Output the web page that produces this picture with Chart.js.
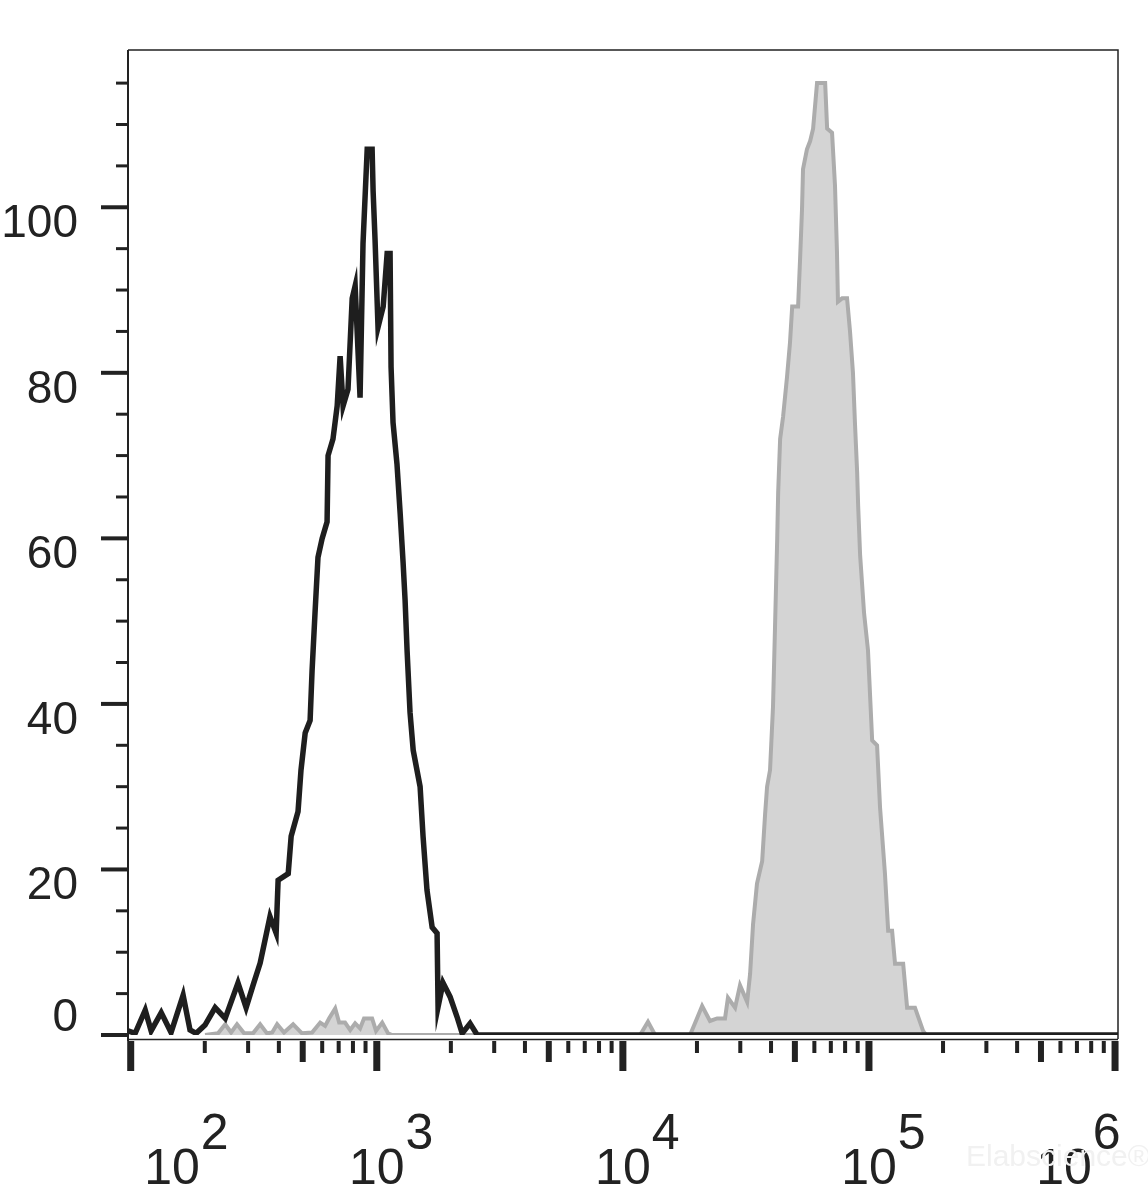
<!DOCTYPE html>
<html>
<head>
<meta charset="utf-8">
<script src="https://cdn.jsdelivr.net/npm/chart.js@4.4.1/dist/chart.umd.min.js"></script>
<style>
  body { margin: 0; background: #fff; }
  #wrap { width: 1148px; height: 1195px; position: relative; }
</style>
</head>
<body>
<div id="wrap"><canvas id="flow_chart"></canvas></div>
<script>
// x values are log10 of fluorescence intensity, y values are cell counts
const blackLog = [1.989, 2.018, 2.059, 2.083, 2.124, 2.164, 2.213, 2.241, 2.266, 2.302,
    2.343, 2.384, 2.436, 2.469, 2.497, 2.526, 2.546, 2.566, 2.591, 2.599,
    2.640, 2.652, 2.680, 2.692, 2.709, 2.729, 2.737, 2.749, 2.761, 2.778,
    2.798, 2.802, 2.822, 2.839, 2.851, 2.863, 2.883, 2.900, 2.912, 2.932,
    2.944, 2.961, 2.981, 2.985, 2.993, 3.005, 3.026, 3.042, 3.054, 3.058,
    3.066, 3.082, 3.095, 3.107, 3.115, 3.123, 3.135, 3.148, 3.176, 3.188,
    3.204, 3.225, 3.245, 3.249, 3.269, 3.298, 3.326, 3.347, 3.379, 3.408, 6.012];
const blackCount = [0.5, 0.2, 3, 0.5, 2.7, 0.3, 4.8, 0.6, 0.2, 1.2,
    3.3, 2, 6.3, 3.3, 6, 8.7, 11.5, 14.3, 12.3, 18.7,
    19.5, 24, 27, 32, 36.5, 38, 44, 51, 57.7, 60,
    62, 70, 72, 76, 82, 76, 78, 89, 90.5, 77,
    95.6, 107, 107, 102, 96, 85.5, 88, 94.4, 94.4, 80.7,
    74, 69, 63, 57, 52.5, 46.5, 39, 34.4, 30, 24,
    17.5, 13, 12.3, 3.4, 6.3, 4.6, 2.2, 0.2, 1.4, 0, 0];

const greyLog = [2.302, 2.355, 2.384, 2.408, 2.432, 2.461, 2.497, 2.526, 2.554, 2.575,
    2.595, 2.623, 2.660, 2.696, 2.737, 2.770, 2.790, 2.806, 2.831, 2.847,
    2.871, 2.892, 2.912, 2.932, 2.948, 2.981, 2.997, 3.022, 3.046, 3.062,
    4.070, 4.102, 4.131, 4.273, 4.301, 4.322, 4.354, 4.383, 4.415, 4.427,
    4.456, 4.476, 4.505, 4.517, 4.529, 4.545, 4.566, 4.578, 4.586, 4.598,
    4.610, 4.618, 4.627, 4.631, 4.639, 4.651, 4.667, 4.679, 4.688, 4.712,
    4.720, 4.728, 4.732, 4.748, 4.761, 4.773, 4.789, 4.822, 4.830, 4.850,
    4.862, 4.870, 4.874, 4.891, 4.911, 4.923, 4.935, 4.943, 4.952, 4.956,
    4.964, 4.980, 4.996, 5.013, 5.033, 5.045, 5.065, 5.078, 5.094, 5.106,
    5.139, 5.155, 5.187, 5.220, 5.232];
const greyCount = [0, 0.2, 1.3, 0.3, 1.3, 0.2, 0.2, 1.3, 0.2, 0.3,
    1.3, 0.3, 1.3, 0.2, 0.3, 1.5, 1.1, 2.0, 3.2, 1.5,
    1.5, 0.6, 1.4, 0.8, 2.0, 2.0, 0.5, 1.5, 0.2, 0,
    0, 1.6, 0, 0, 2, 3.5, 1.7, 2, 2, 4.5,
    3.3, 6, 4, 7.4, 13.4, 18.3, 21, 26.7, 30, 32,
    39.6, 49, 59.8, 65.5, 72, 74.7, 79.5, 83.6, 88, 88,
    93.7, 99.8, 104.6, 107, 108, 109.5, 115, 115, 109.5, 109,
    102.6, 94.6, 88.6, 89, 89, 85, 80, 74, 68, 64,
    58, 51, 46.5, 35.6, 35, 27.5, 19.5, 12.6, 12.6, 8.6,
    8.6, 3.3, 3.3, 0.5, 0];

// axis ranges and ticks
const xRangeLog = [1.989, 6.012];
const yRange = [0, 119];
const xDecades = [100, 1000, 10000, 100000, 1000000];
const xDecadeExponents = ['2', '3', '4', '5', '6'];
const xMidFactors = [5];
const xMinorFactors = [2, 3, 4, 6, 7, 8, 9];
const yMajorTicks = [0, 20, 40, 60, 80, 100];
const yMinorTicks = [5, 10, 15, 25, 30, 35, 45, 50, 55, 65, 70, 75, 85, 90, 95, 105, 110, 115];

const to_points = (logs, counts) => logs.map((e, i) => ({ x: Math.pow(10, e), y: counts[i] }));

const axesPlugin = {
    id: 'flowAxes',
    beforeDatasetsDraw(chart) {
        const { ctx, chartArea: a, scales } = chart;
        const xs = scales.x, ys = scales.y;
        ctx.save();
        ctx.strokeStyle = '#222';
        ctx.fillStyle = '#222';

        // frame
        ctx.lineWidth = 1.5;
        ctx.beginPath();
        ctx.moveTo(a.left, a.top);
        ctx.lineTo(a.right, a.top);
        ctx.lineTo(a.right, a.bottom + 4);
        ctx.stroke();
        ctx.lineWidth = 2;
        ctx.beginPath();
        ctx.moveTo(a.left, a.top);
        ctx.lineTo(a.left, a.bottom + 6);
        ctx.stroke();
        // thin x axis line under the zero line
        ctx.lineWidth = 1.5;
        ctx.beginPath();
        ctx.moveTo(a.left, a.bottom + 4.5);
        ctx.lineTo(a.right, a.bottom + 4.5);
        ctx.stroke();

        // y ticks
        ctx.lineWidth = 4;
        yMajorTicks.forEach(v => {
            const p = ys.getPixelForValue(v);
            ctx.beginPath(); ctx.moveTo(a.left - 27, p); ctx.lineTo(a.left, p); ctx.stroke();
        });
        ctx.lineWidth = 3;
        yMinorTicks.forEach(v => {
            const p = ys.getPixelForValue(v);
            ctx.beginPath(); ctx.moveTo(a.left - 12, p); ctx.lineTo(a.left, p); ctx.stroke();
        });

        // x ticks
        const top = a.bottom + 6;
        const xtick = (v, w, len) => {
            const p = xs.getPixelForValue(v);
            if (p < a.left - 4 || p > a.right + 4) return;
            ctx.fillRect(p - w / 2, top, w, len);
        };
        xDecades.forEach((d, i) => {
            xtick(d, 7, 30);
            if (i < xDecades.length - 1) {
                xMidFactors.forEach(f => xtick(d * f, 6, 21));
                xMinorFactors.forEach(f => xtick(d * f, 4, 12));
            }
        });

        // y labels
        ctx.font = '46px "Liberation Sans", Arial, sans-serif';
        ctx.textAlign = 'right';
        ctx.textBaseline = 'middle';
        yMajorTicks.forEach(v => {
            const p = ys.getPixelForValue(v);
            ctx.fillText(String(v), 78, Math.min(p + 17, a.bottom - 17));
        });

        // x labels: 10 with superscript exponent
        ctx.font = '50px "Liberation Sans", Arial, sans-serif';
        ctx.textBaseline = 'alphabetic';
        xDecades.forEach((d, i) => {
            const p = xs.getPixelForValue(d);
            const cx = Math.max(a.left + 44, Math.min(p, a.right - 54));
            const w = ctx.measureText('10').width;
            ctx.textAlign = 'center';
            ctx.fillText('10', cx, 1184);
            ctx.textAlign = 'left';
            ctx.fillText(xDecadeExponents[i], cx + w / 2 + 1, 1149);
        });

        // faint watermark
        ctx.font = '30px "Liberation Sans", Arial, sans-serif';
        ctx.fillStyle = '#f1f1f1';
        ctx.textAlign = 'left';
        ctx.fillText('Elabscience\u00AE', 966, 1166);
        ctx.restore();
    }
};

var ctx = document.getElementById('flow_chart').getContext('2d');
var chart = new Chart(ctx, {
    type: 'line',
    data: {
        datasets: [{
            label: 'Stained',
            data: to_points(blackLog, blackCount),
            borderColor: '#1e1e1e',
            borderWidth: 5.5,
            pointRadius: 0,
            fill: false,
            tension: 0,
            order: 0
        }, {
            label: 'Control',
            data: to_points(greyLog, greyCount),
            borderColor: '#acacac',
            backgroundColor: '#d4d4d4',
            borderWidth: 4,
            pointRadius: 0,
            fill: 'origin',
            tension: 0,
            order: 1
        }]
    },
    options: {
        responsive: true,
        maintainAspectRatio: false,
        animation: false,
        layout: { padding: { left: 128, top: 50, right: 30, bottom: 160 } },
        plugins: { legend: { display: false }, tooltip: { enabled: false } },
        scales: {
            x: { type: 'logarithmic', display: false, min: Math.pow(10, xRangeLog[0]), max: Math.pow(10, xRangeLog[1]) },
            y: { type: 'linear', display: false, min: yRange[0], max: yRange[1] }
        }
    },
    plugins: [axesPlugin]
});
</script>
</body>
</html>
